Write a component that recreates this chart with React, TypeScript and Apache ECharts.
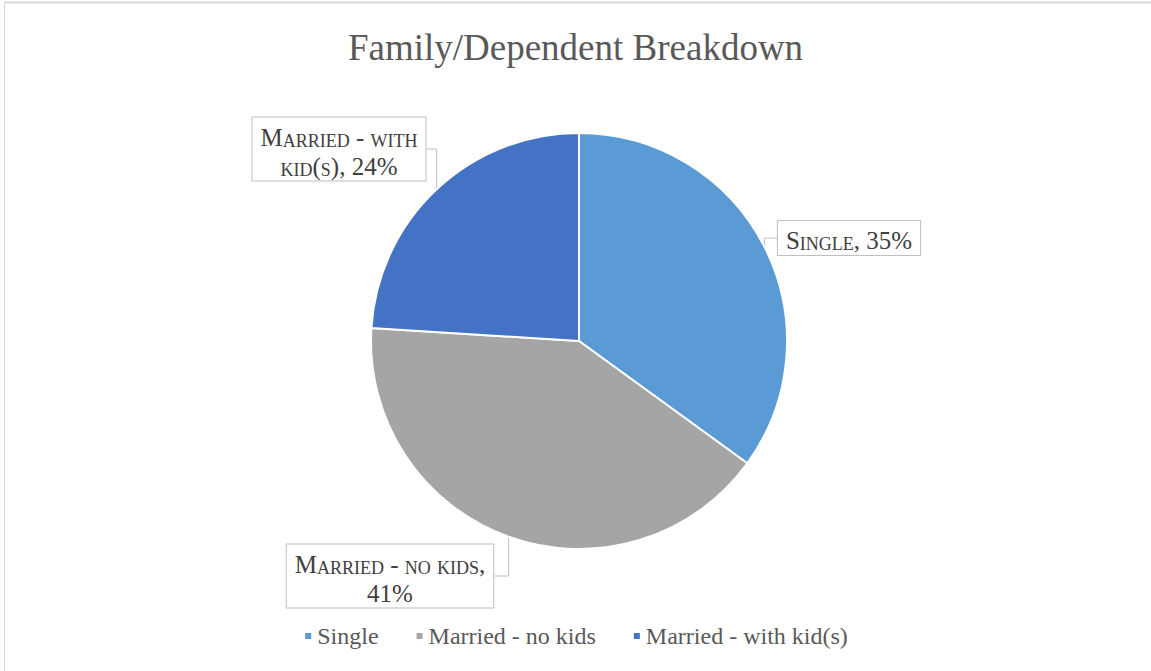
import React, { useEffect, useRef } from "react";
import * as echarts from "echarts";

const categories = ["Single", "Married - no kids", "Married - with kid(s)"];
const values = [35, 41, 24];
const colors = ["#5B9BD5", "#A5A5A5", "#4472C4"];
// where each data label breaks onto a second line (text before the break)
const labelBreakAfter = ["", "Married - no kids,", "Married - with"];
const title = "Family/Dependent Breakdown";

const SERIF = "Liberation Serif";

// emulate Excel's small caps: lowercase letters become smaller capitals
function smallCaps(text: string): string {
  let out = "";
  let run = "";
  let runSmall: boolean | null = null;
  const flush = () => {
    if (run) out += `{${runSmall ? "s" : "b"}|${run}}`;
    run = "";
  };
  for (const ch of text) {
    const isSmall = ch !== ch.toUpperCase();
    if (runSmall !== null && isSmall !== runSmall) flush();
    runSmall = isSmall;
    run += isSmall ? ch.toUpperCase() : ch;
  }
  flush();
  return out;
}

export default function App() {
  const ref = useRef<HTMLDivElement>(null);
  useEffect(() => {
    const chart = echarts.init(ref.current!, null, { renderer: "svg" });
    const labelPos: Record<number, [number, number]> = {
      0: [849, 238],
      1: [390, 576],
      2: [339, 149],
    };
    const tokenStyle = (size: number) => ({
      fontFamily: SERIF,
      fontSize: size,
      color: "#404040",
      lineHeight: 29,
      verticalAlign: "bottom",
    });
    chart.setOption({
      animation: false,
      backgroundColor: "#ffffff",
      textStyle: { fontFamily: SERIF },
      title: {
        text: title,
        left: "center",
        top: 24,
        textStyle: {
          fontFamily: SERIF,
          fontSize: 37,
          fontWeight: "normal",
          color: "#595959",
        },
      },
      legend: {
        bottom: 18,
        left: "center",
        icon: "rect",
        itemWidth: 8,
        itemHeight: 8,
        itemGap: 36,
        data: categories,
        textStyle: { fontFamily: SERIF, fontSize: 24, color: "#595959" },
      },
      graphic: [
        { type: "line", shape: { x1: 4, y1: 2.5, x2: 1151, y2: 2.5 }, style: { stroke: "#d9d9d9", lineWidth: 2 } },
        { type: "line", shape: { x1: 4.5, y1: 2, x2: 4.5, y2: 671 }, style: { stroke: "#d9d9d9", lineWidth: 1 } },
      ],
      series: [
        {
          type: "pie",
          center: [579, 341],
          radius: 208,
          startAngle: 90,
          clockwise: true,
          itemStyle: { borderColor: "#ffffff", borderWidth: 2 },
          data: categories.map((c, i) => ({
            name: c,
            value: values[i],
            itemStyle: { color: colors[i] },
          })),
          label: {
            show: true,
            formatter: (p: any) => {
              const full = `${p.name}, ${Math.round(p.percent)}%`;
              const br = labelBreakAfter[p.dataIndex];
              const text = br && full.startsWith(br)
                ? br + "\n" + full.slice(br.length).trimStart()
                : full;
              return text.split("\n").map(smallCaps).join("\n");
            },
            fontFamily: SERIF,
            fontSize: 25,
            lineHeight: 29,
            color: "#404040",
            backgroundColor: "#ffffff",
            borderColor: "#bfbfbf",
            borderWidth: 1,
            padding: [3, 8, 2, 8],
            align: "center",
            rich: {
              b: tokenStyle(25),
              s: tokenStyle(18),
            },
          },
          labelLine: { show: true, lineStyle: { color: "#bfbfbf", width: 1 } },
          labelLayout: (p: any) => {
            const pos = labelPos[p.dataIndex];
            return { x: pos[0], y: pos[1], align: "center", verticalAlign: "middle" };
          },
        },
      ],
    });
    return () => chart.dispose();
  }, []);
  return (
    <div
      ref={ref}
      style={{ position: "absolute", left: 0, top: 0, width: 1151, height: 671 }}
    />
  );
}
